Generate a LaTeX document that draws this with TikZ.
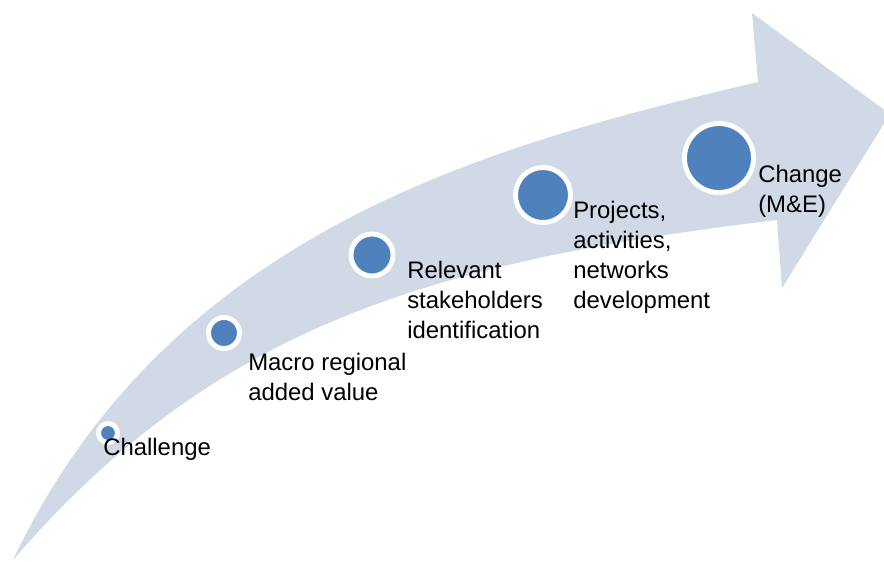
\documentclass[tikz,border=0pt]{standalone}
\usepackage{fontspec}
\setmainfont{Liberation Sans}
\definecolor{bandblue}{RGB}{209,217,231}
\definecolor{dotblue}{RGB}{79,129,189}

\begin{document}
\begin{tikzpicture}[x=0.025cm, y=-0.025cm]
        % Define styles
        \tikzset{
            band/.style={fill=bandblue, draw=none},
            dot/.style={circle, fill=dotblue, draw=white, line width=3.5pt, inner sep=0pt, minimum size=#1},
            stage/.style={anchor=base west, align=left, inner sep=0pt, font=\fontsize{17}{21.3}\selectfont}
        }
        \useasboundingbox (0,0) rectangle (884,561);
        \clip (0,0) rectangle (884,561);

        % Curved arrow
        \fill[band] (13,560) .. controls (170,230) and (490,145) .. (758,82)
            -- (752,13) -- (890,114) -- (782,288) -- (777,220)
            .. controls (427,262) and (213,328) .. (13,560) -- cycle;

        % Nodes
        \node[dot=0.475cm] (dot_1) at (108,433) {};
        \node[dot=0.775cm] (dot_2) at (224,333) {};
        \node[dot=1.05cm] (dot_3) at (372,255) {};
        \node[dot=1.375cm] (dot_4) at (543,195) {};
        \node[dot=1.725cm] (dot_5) at (719,158) {};

        % Texts (base = last line)
        \node[stage] (text_1) at (103,455) {Challenge};
        \node[stage] (text_2) at (248,400) {Macro regional\\added value};
        \node[stage] (text_3) at (407,338) {Relevant\\stakeholders\\identification};
        \node[stage] (text_4) at (573,308) {Projects,\\activities,\\networks\\development};
        \node[stage] (text_5) at (758,212) {Change\\(M\&E)};
\end{tikzpicture}
\end{document}
